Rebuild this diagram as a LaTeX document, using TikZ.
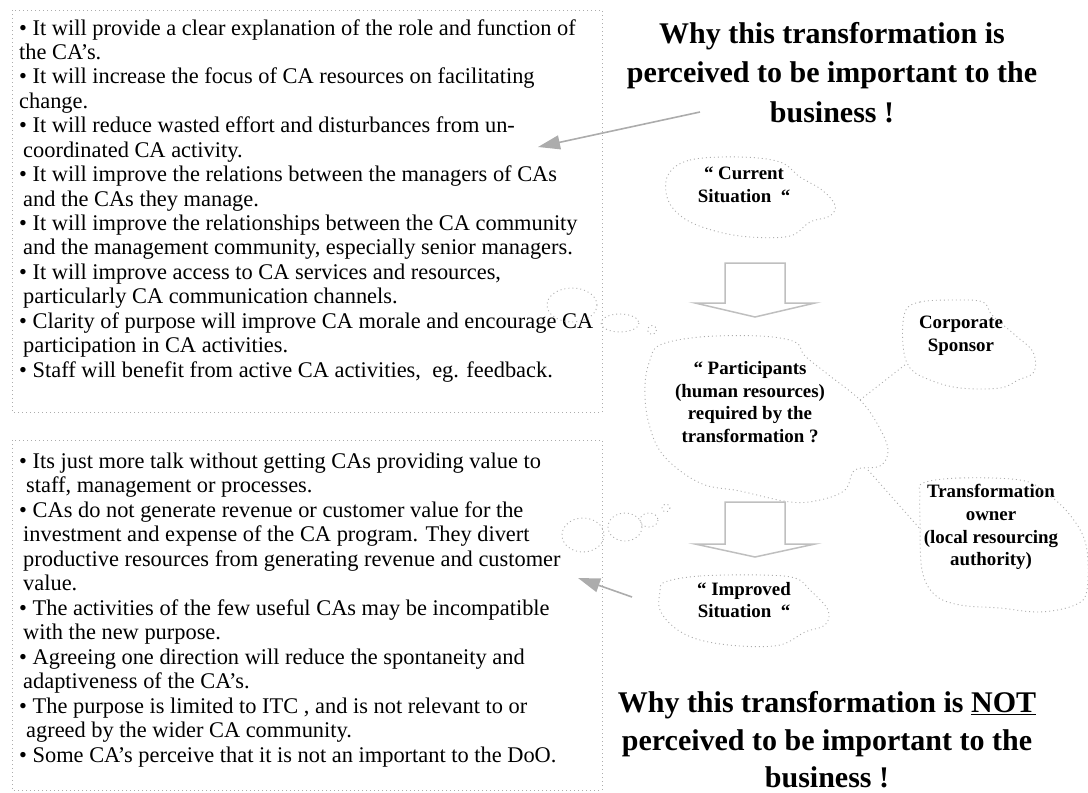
\documentclass[tikz,border=0pt]{standalone}
\usepackage{fontspec}
\setmainfont{Liberation Serif}
\usetikzlibrary{arrows.meta}
\begin{document}
\begin{tikzpicture}[x=1pt,y=-1pt,
 body/.style={font=\fontsize{22.4}{24.5}\selectfont, inner sep=0, anchor=base west},
 title/.style={font=\fontsize{30}{39.5}\selectfont\bfseries, inner sep=0, anchor=base},
 cloudtxt/.style={font=\fontsize{18.9}{22.8}\selectfont\bfseries, align=center, inner sep=0},
 dotbox/.style={draw=gray!65, line width=0.9pt, dash pattern=on 1pt off 3pt},
 cloudline/.style={draw=gray!65, line width=0.9pt, dash pattern=on 1pt off 3pt},
 blockarrow/.style={draw=gray!50, line width=1.5pt, fill=white, line join=miter},
 pointer/.style={draw=gray!65, line width=1.6pt, -{Triangle[length=22pt,width=14pt]}}
]
\useasboundingbox (0,0) rectangle (1088,793);

% text boxes
\draw[dotbox] (12,10) rectangle (602,412);
\draw[dotbox] (12,440) rectangle (602,790);

\foreach \x/\t [count=\i from 0] in {
 19/{• It will provide a clear explanation of the role and function of},
 19/{the CA’s.},
 19/{• It will increase the focus of CA resources on facilitating},
 19/{change.},
 19/{• It will reduce wasted effort and disturbances from un-},
 23/{coordinated CA activity.},
 19/{• It will improve the relations between the managers of CAs},
 23/{and the CAs they manage.},
 19/{• It will improve the relationships between the CA community},
 23/{and the management community, especially senior managers.},
 19/{• It will improve access to CA services and resources,},
 23/{particularly CA communication channels.},
 19/{• Clarity of purpose will improve CA morale and encourage CA},
 23/{participation in CA activities.},
 19/{• Staff will benefit from active CA activities,\ \ eg. feedback.}}
 \node[body] (top\i) at (\x,35+\i*24.43) {\t};

\foreach \x/\t [count=\i from 0] in {
 19/{• Its just more talk without getting CAs providing value to},
 26/{staff, management or processes.},
 19/{• CAs do not generate revenue or customer value for the},
 23/{investment and expense of the CA program. They divert},
 23/{productive resources from generating revenue and customer},
 23/{value.},
 19/{• The activities of the few useful CAs may be incompatible},
 23/{with the new purpose.},
 19/{• Agreeing one direction will reduce the spontaneity and},
 23/{adaptiveness of the CA’s.},
 19/{• The purpose is limited to ITC , and is not relevant to or},
 26/{agreed by the wider CA community.},
 19/{• Some CA’s perceive that it is not an important to the DoO.}}
 \node[body] (bot\i) at (\x,468+\i*24.5) {\t};

% titles
\node[title] (ta1) at (832,43) {Why this transformation is};
\node[title] (ta2) at (832,82.5) {perceived to be important to the};
\node[title] (ta3) at (832,122) {business !};
\node[title] (tb1) at (827,712) {Why this transformation is \underline{NOT}};
\node[title] (tb2) at (827,750) {perceived to be important to the};
\node[title] (tb3) at (827,787) {business !};

% pointers
\coordinate (pa1) at (700,112);
\coordinate (pa2) at (538,147);
\draw[pointer] (pa1) -- (pa2);
\coordinate (pb1) at (632,597);
\coordinate (pb2) at (578,578);
\draw[pointer] (pb1) -- (pb2);

% cloud texts
\node[cloudtxt] (cur) at (744,185) {“ Current\\Situation\ \ “};
\node[cloudtxt] (part) at (750,402) {“ Participants\\(human resources)\\required by the\\transformation ?};
\node[cloudtxt] (spon) at (961,336) {Corporate\\Sponsor};
\node[cloudtxt] (own) at (991,527) {Transformation\\owner\\(local resourcing\\authority)};
\node[cloudtxt] (imp) at (744,600) {“ Improved\\Situation\ \ “};

% cloud outlines
\draw[cloudline] plot[smooth cycle, tension=0.6] coordinates {
 (668,175) (690,160) (740,157) (780,162) (800,177) (822,190) (835,205) (830,216)
 (810,222) (790,236) (750,237) (715,231) (685,219) (668,200)};
\draw[cloudline] plot[smooth cycle, tension=0.6] coordinates {
 (660,345) (700,337) (760,336) (795,342) (805,356) (830,376) (860,400) (878,425)
 (888,450) (880,466) (855,470) (845,490) (820,500) (790,502) (740,491) (700,483)
 (663,455) (648,420) (645,385) (650,360)};
\draw[cloudline] plot[smooth cycle, tension=0.6] coordinates {
 (905,312) (920,302) (955,300) (983,302) (992,315) (1015,335) (1033,352) (1034,372)
 (1018,380) (1000,388) (960,388) (930,380) (910,368) (903,345)};
\draw[cloudline] plot[smooth cycle, tension=0.6] coordinates {
 (923,483) (960,478) (1020,480) (1045,492) (1070,515) (1086,545) (1087,590) (1075,605)
 (1040,612) (1000,608) (960,605) (935,595) (922,570) (920,520) (920,495)};
\draw[cloudline] plot[smooth cycle, tension=0.6] coordinates {
 (665,582) (700,576) (760,575) (795,578) (810,590) (828,610) (825,625) (805,632)
 (780,645) (740,646) (700,640) (675,628) (660,610) (660,592)};

% cloud connectors
\coordinate (cs1) at (860,400);
\coordinate (cs2) at (906,364);
\draw[cloudline] (cs1) -- (cs2);
\coordinate (co1) at (868,470);
\coordinate (co2) at (921,530);
\draw[cloudline] (co1) -- (co2);

% thought bubbles
\draw[cloudline] (572,305) ellipse (25 and 17);
\draw[cloudline] (620,323) ellipse (19 and 9);
\draw[cloudline] (652,330) circle (4.5);
\draw[cloudline] (583,535) ellipse (21 and 17);
\draw[cloudline] (625,527) ellipse (17 and 14);
\draw[cloudline] (649,520) ellipse (9 and 7);
\draw[cloudline] (666,508) circle (4);

% block arrows
\draw[blockarrow] (725,263) -- (785,263) -- (785,303) -- (815,303) -- (755,317)
 -- (695,303) -- (725,303) -- cycle;
\draw[blockarrow] (725,502) -- (785,502) -- (785,544) -- (815,544) -- (755,557)
 -- (695,544) -- (725,544) -- cycle;
\end{tikzpicture}
\end{document}
